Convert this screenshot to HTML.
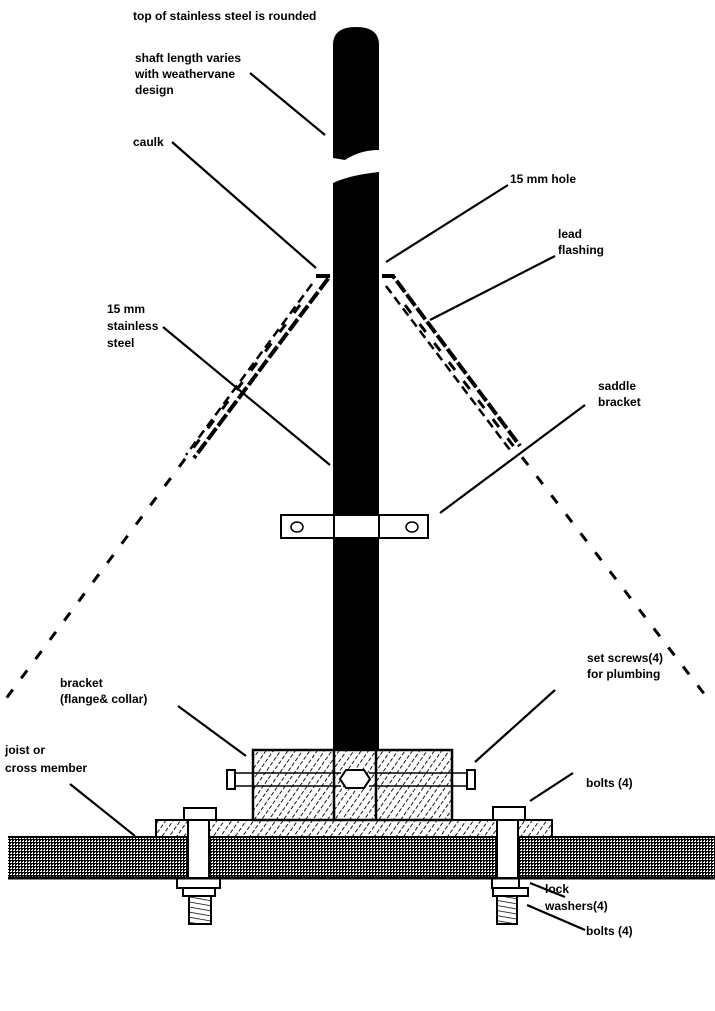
<!DOCTYPE html>
<html><head><meta charset="utf-8"><style>
html,body{margin:0;padding:0;background:#fff;}
svg{display:block;}
text{font-family:"Liberation Sans",sans-serif;font-weight:bold;font-size:12px;fill:#000;}
</style></head><body>
<svg width="715" height="1011" viewBox="0 0 715 1011" xmlns="http://www.w3.org/2000/svg">
<defs>
<pattern id="hatch" width="6" height="6" patternUnits="userSpaceOnUse" patternTransform="rotate(35)">
<line x1="0" y1="0" x2="0" y2="6" stroke="#000" stroke-width="1.8" stroke-dasharray="4 2"/>
</pattern>
<pattern id="dots" width="3" height="3" patternUnits="userSpaceOnUse">
<rect width="3" height="3" fill="#fff"/>
<rect width="2" height="1" fill="#000"/><rect y="1" width="1" height="2" fill="#000"/><rect x="2" y="2" width="1" height="1" fill="#000"/><rect x="1" y="2" width="1" height="1" fill="#000"/>
</pattern>
<pattern id="thread" width="6" height="5" patternUnits="userSpaceOnUse" patternTransform="rotate(10)">
<line x1="0" y1="0" x2="6" y2="0" stroke="#000" stroke-width="1.5"/>
</pattern>
</defs>

<!-- roof dashed lines -->
<g stroke="#000" stroke-width="3" stroke-dasharray="10 14" fill="none">
<line x1="300" y1="305" x2="5" y2="700"/>
<line x1="405" y1="305" x2="705" y2="695"/>
</g>
<!-- flashing -->
<g stroke="#000" fill="none">
<path d="M316 276 L330 276 L194 458" stroke-width="4" stroke-dasharray="14 3"/>
<path d="M312 284 L186 455" stroke-width="2.5" stroke-dasharray="9 5"/>
<path d="M382 276 L393 276 L520 446" stroke-width="4" stroke-dasharray="14 3"/>
<path d="M386 286 L510 450" stroke-width="2.5" stroke-dasharray="9 5"/>
</g>

<!-- shaft -->
<path d="M333 158 L333 45 Q333 27 356 27 Q379 27 379 45 L379 150 Q360 150 345 160 Z" fill="#000"/>
<path d="M333 183 Q350 175 379 172 L379 750 L333 750 Z" fill="#000"/>

<!-- saddle bracket -->
<rect x="281" y="515" width="147" height="23" fill="#fff" stroke="#000" stroke-width="2"/>
<rect x="334" y="516" width="45" height="21" fill="#fff"/>
<line x1="334" y1="515" x2="334" y2="538" stroke="#000" stroke-width="2"/>
<line x1="379" y1="515" x2="379" y2="538" stroke="#000" stroke-width="2"/>
<ellipse cx="297" cy="527" rx="6" ry="5" fill="none" stroke="#000" stroke-width="1.5"/>
<ellipse cx="412" cy="527" rx="6" ry="5" fill="none" stroke="#000" stroke-width="1.5"/>

<!-- joist -->
<rect x="8" y="837" width="707" height="41" fill="url(#dots)"/>
<line x1="8" y1="878" x2="715" y2="878" stroke="#000" stroke-width="3"/>
<line x1="8" y1="837" x2="715" y2="837" stroke="#000" stroke-width="2"/>

<!-- base plate -->
<rect x="156" y="820" width="396" height="17" fill="url(#hatch)" stroke="#000" stroke-width="2"/>
<!-- collar -->
<rect x="253" y="750" width="199" height="70" fill="url(#hatch)" stroke="#000" stroke-width="2.5"/>
<line x1="334" y1="750" x2="334" y2="820" stroke="#000" stroke-width="2.5"/>
<line x1="376" y1="750" x2="376" y2="820" stroke="#000" stroke-width="2.5"/>
<polygon points="346,770 364,770 370,779 364,788 346,788 340,779" fill="#fff" stroke="#000" stroke-width="2"/>
<!-- set screws -->
<g stroke="#000" stroke-width="1.5" fill="#fff">
<line x1="234" y1="773" x2="341" y2="773"/><line x1="234" y1="786" x2="341" y2="786"/>
<line x1="369" y1="773" x2="468" y2="773"/><line x1="369" y1="786" x2="468" y2="786"/>
<rect x="227" y="770" width="8" height="19" stroke-width="2"/>
<rect x="467" y="770" width="8" height="19" stroke-width="2"/>
</g>

<!-- bolts -->
<g stroke="#000" stroke-width="2" fill="#fff">
<rect x="184" y="808" width="32" height="12" fill="none"/>
<rect x="188" y="820" width="21" height="58"/>
<rect x="177" y="878" width="43" height="10" fill="none"/>
<rect x="183" y="888" width="32" height="8" fill="none"/>
<rect x="189" y="896" width="22" height="28" fill="url(#thread)"/>
<rect x="493" y="807" width="32" height="13" fill="none"/>
<rect x="497" y="820" width="21" height="58"/>
<rect x="492" y="878" width="27" height="10" fill="none"/>
<rect x="493" y="888" width="35" height="8" fill="none"/>
<rect x="497" y="896" width="20" height="28" fill="url(#thread)"/>
</g>

<!-- leader lines -->
<g stroke="#000" stroke-width="2.2">
<line x1="250" y1="73" x2="325" y2="135"/>
<line x1="172" y1="142" x2="316" y2="268"/>
<line x1="508" y1="185" x2="386" y2="262"/>
<line x1="555" y1="256" x2="430" y2="320"/>
<line x1="163" y1="327" x2="330" y2="465"/>
<line x1="585" y1="405" x2="440" y2="513"/>
<line x1="178" y1="706" x2="246" y2="756"/>
<line x1="555" y1="690" x2="475" y2="762"/>
<line x1="70" y1="784" x2="135" y2="836"/>
<line x1="573" y1="773" x2="530" y2="801"/>
<line x1="530" y1="883" x2="565" y2="897"/>
<line x1="527" y1="905" x2="585" y2="930"/>
</g>

<!-- labels -->
<text x="133" y="20">top of stainless steel is rounded</text>
<text x="135" y="62">shaft length varies</text>
<text x="135" y="78">with weathervane</text>
<text x="135" y="94">design</text>
<text x="133" y="146">caulk</text>
<text x="510" y="183">15 mm hole</text>
<text x="558" y="238">lead</text>
<text x="558" y="254">flashing</text>
<text x="107" y="313">15 mm</text>
<text x="107" y="330">stainless</text>
<text x="107" y="347">steel</text>
<text x="598" y="390">saddle</text>
<text x="598" y="406">bracket</text>
<text x="587" y="662">set screws(4)</text>
<text x="587" y="678">for plumbing</text>
<text x="60" y="687">bracket</text>
<text x="60" y="703">(flange&amp; collar)</text>
<text x="5" y="754">joist or</text>
<text x="5" y="772">cross member</text>
<text x="586" y="787">bolts (4)</text>
<text x="545" y="893">lock</text>
<text x="545" y="910">washers(4)</text>
<text x="586" y="935">bolts (4)</text>
</svg>
</body></html>
